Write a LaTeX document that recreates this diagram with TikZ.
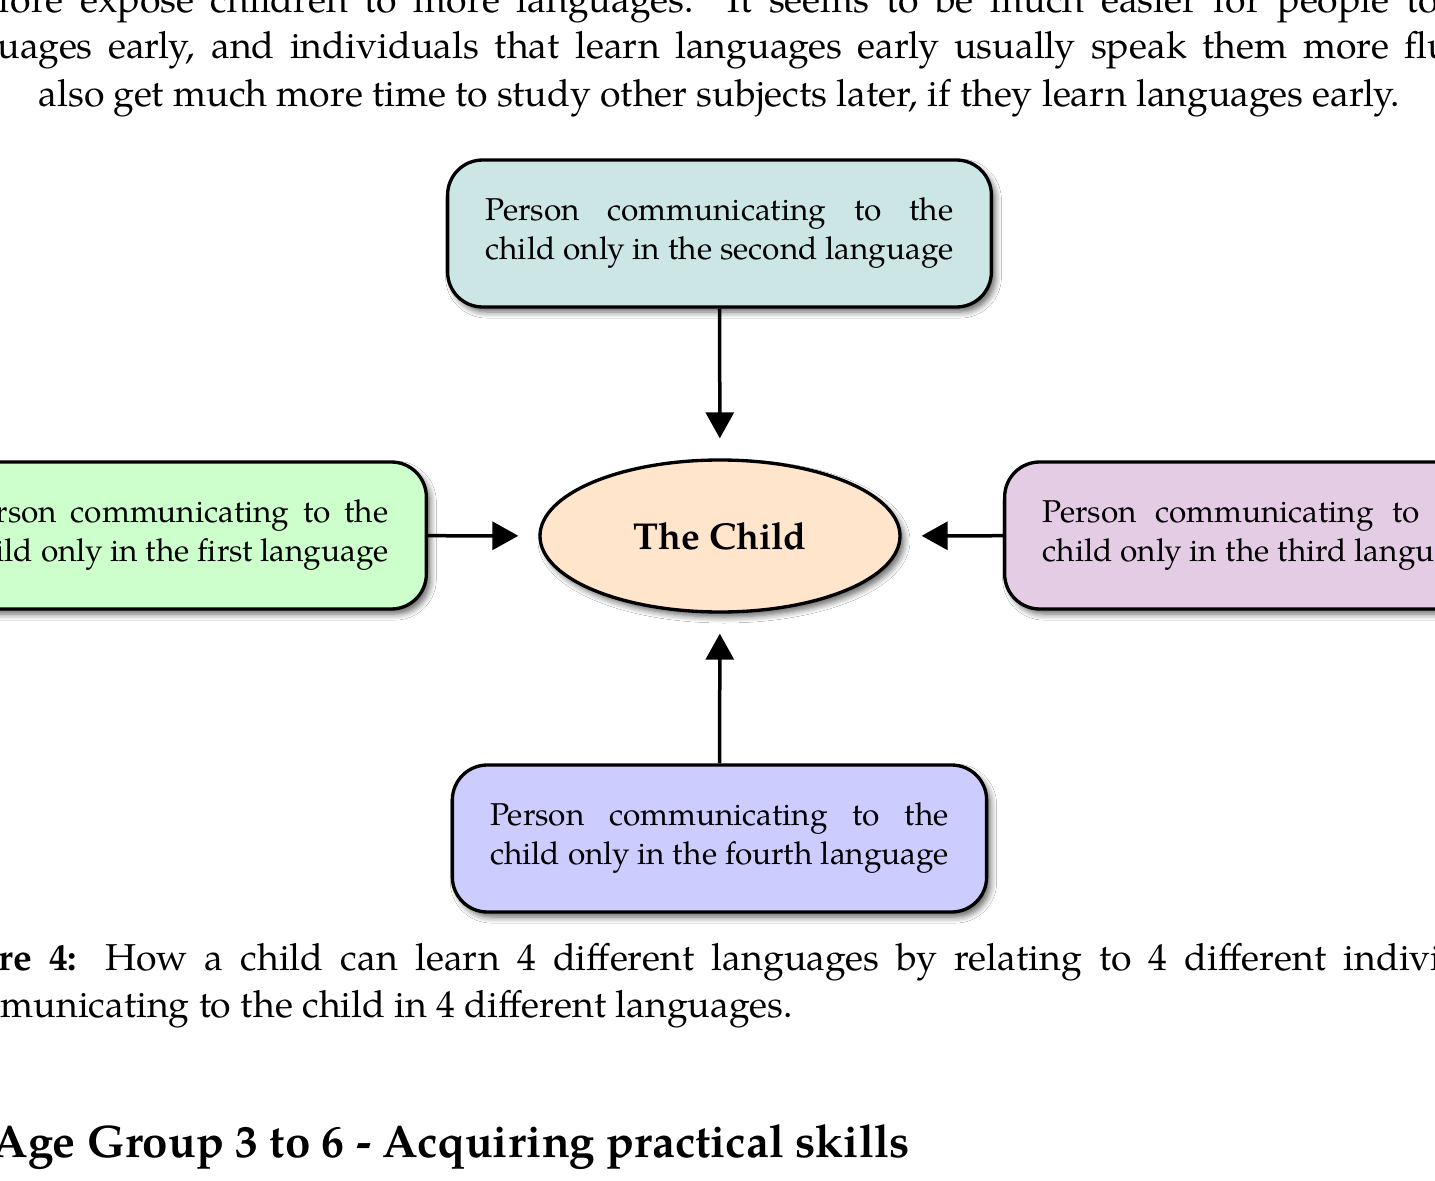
\documentclass[tikz,border=0pt]{standalone}
\usepackage{fontspec}
\setmainfont{TeX Gyre Pagella}
\usetikzlibrary{shapes.geometric,arrows.meta,shadows.blur}

\newsavebox\jbox
\newcommand\jtwo[2]{\global\setbox\jbox\hbox{#2}\makebox[\wd\jbox][s]{#1}\\\usebox\jbox}
\newcommand\bodyfont{\fontsize{11.23pt}{14.1pt}\selectfont}
\newcommand\boxfont{\fontsize{9.47pt}{11.7pt}\selectfont}
\newcommand\headfont{\fontsize{13.7pt}{16pt}\selectfont\bfseries}

\tikzset{
  pbox/.style={draw, line width=1pt, rounded corners=10.5pt,
    minimum height=44.1pt, inner xsep=11.4pt, inner ysep=0pt,
    align=center, font=\boxfont,
    blur shadow={shadow xshift=1.2pt, shadow yshift=-1.5pt,
      shadow blur radius=1.8pt, shadow blur steps=6, shadow opacity=60}},
  childnode/.style={ellipse, draw, line width=1pt, fill=orange!20,
    minimum width=108pt, minimum height=45.6pt, inner sep=0pt,
    font=\bodyfont\bfseries,
    blur shadow={shadow xshift=1.2pt, shadow yshift=-1.5pt,
      shadow blur radius=1.8pt, shadow blur steps=6, shadow opacity=60}},
  arr/.style={line width=1.05pt, -{Triangle[length=7.8pt,width=8.4pt]},
    shorten >=6pt},
  txt/.style={inner sep=0pt, anchor=base west, font=\bodyfont},
}

\begin{document}
\begin{tikzpicture}[x=0.3pt,y=-0.3pt]
\fill[white] (0,0) rectangle (1435,1181);
\useasboundingbox (0,0) rectangle (1435,1181);
\clip (0,0) rectangle (1435,1181);

% body text
\node[txt] (b1) at (-2,12) {\llap{there}\makebox[432pt][s]{fore expose children to more languages. It seems to be much easier for people to}};
\node[txt] (b2) at (-3,59) {\llap{lang}\makebox[460.5pt][s]{uages early, and individuals that learn languages early usually speak them more fluently}};
\node[txt] (b3) at (38,106) {\llap{they\hspace{11.8pt}}also get much more time to study other subjects later, if they learn languages early.};

% diagram
\node[pbox, fill=teal!20] (second) at (719.5,233.5)
  {\jtwo{Person communicating to the}{child only in the second language}};
\node[pbox, fill=green!20, anchor=east] (first) at (428,535.5)
  {\jtwo{Person communicating to the}{child only in the first language}};
\node[pbox, fill=violet!20, anchor=west] (third) at (1003,535.5)
  {\jtwo{Person communicating to the}{child only in the third language}};
\node[pbox, fill=blue!20] (fourth) at (719.5,838.5)
  {\jtwo{Person communicating to the}{child only in the fourth language}};
\node[childnode] (child) at (720,536) {The Child};

\draw[arr] (second) -- (child);
\draw[arr] (first) -- (child);
\draw[arr] (third) -- (child);
\draw[arr] (fourth) -- (child);

% caption
\node[txt] (c1) at (-2,970) {\llap{\bfseries Figu}\makebox[460.2pt][s]{\textbf{re 4:} How a child can learn 4 different languages by relating to 4 different individuals}};
\node[txt] (c2) at (0,1017) {\llap{com}municating to the child in 4 different languages.};

% heading
\node[txt, font=\headfont] (h) at (-8,1157) {Age Group 3 to 6 - Acquiring practical skills};
\end{tikzpicture}
\end{document}
